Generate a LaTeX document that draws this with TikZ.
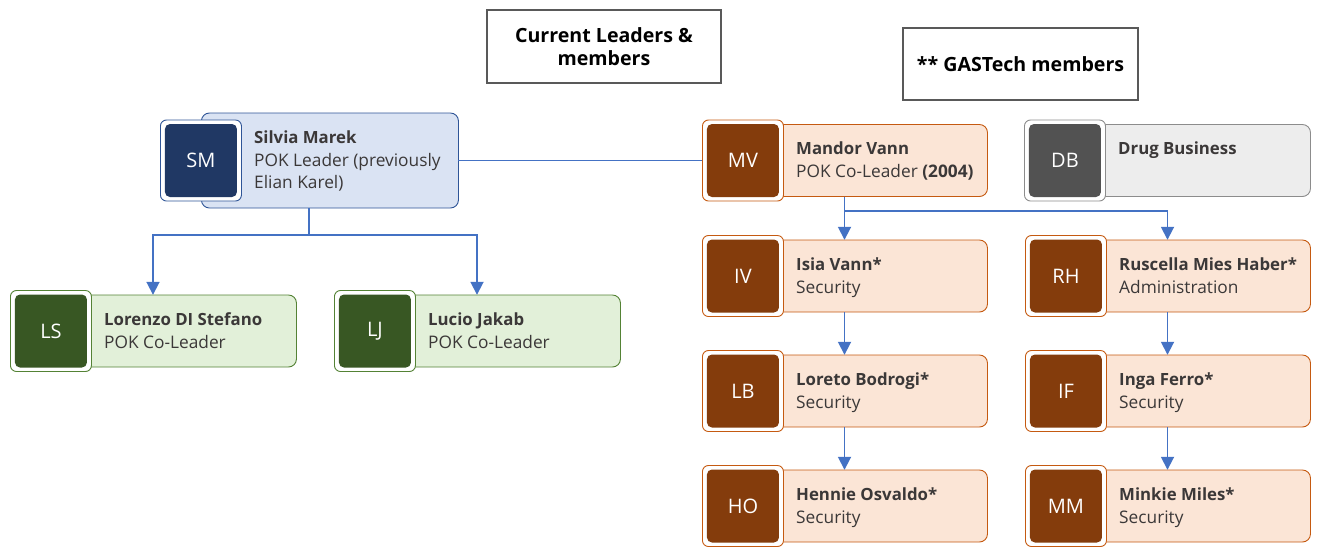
\documentclass[tikz,border=0pt]{standalone}
\usepackage{fontspec}
\setmainfont{Open Sans}
\usetikzlibrary{arrows.meta}
\definecolor{bluefill}{HTML}{DAE3F3}
\definecolor{blueborder}{HTML}{2F5597}
\definecolor{bluedark}{HTML}{203864}
\definecolor{orangefill}{HTML}{FBE5D6}
\definecolor{orangeborder}{HTML}{C55A11}
\definecolor{orangedark}{HTML}{843C0C}
\definecolor{greenfill}{HTML}{E2F0D9}
\definecolor{greenborder}{HTML}{548235}
\definecolor{greendark}{HTML}{385723}
\definecolor{grayfill}{HTML}{EDEDED}
\definecolor{grayborder}{HTML}{8C8C8C}
\definecolor{graydark}{HTML}{525252}
\definecolor{connblue}{HTML}{4472C4}
\definecolor{txtgray}{HTML}{3B3838}
\definecolor{titleborder}{HTML}{595959}
\tikzset{
  cardbox/.style={draw=#1border, fill=#1fill, rounded corners=8pt, line width=0.9pt, inner sep=0pt},
  badgeout/.style={draw=#1border, fill=white, rounded corners=6pt, line width=0.9pt, minimum width=81pt, minimum height=81pt, inner sep=0pt},
  badgein/.style={fill=#1dark, rounded corners=5pt, minimum width=72pt, minimum height=73pt, inner sep=0pt, text=white, font=\fontsize{20}{24}\selectfont},
  cardarea/.style={inner sep=0pt},
  namelabel/.style={inner sep=0pt, text=txtgray, font=\bfseries\fontsize{16.8}{18}\selectfont},
  rolelabel/.style={inner sep=0pt, text=txtgray, font=\fontsize{17.3}{18}\selectfont},
  conn/.style={draw=connblue, line width=1.8pt},
  arr/.style={conn, -{Triangle[length=13pt,width=13pt]}},
  titlebox/.style={draw=titleborder, line width=1.1pt, align=center, inner sep=0pt, font=\bfseries\fontsize{19.6}{23}\selectfont}
}
% #1 id, #2 badge left x, #3 centre y, #4 box right x, #5 box height, #6 scheme, #7 initials, #8 name, #9 role
\newcommand\orgcard[9]{%
  \node[cardbox=#6, minimum width={(#4-#2-41)*1pt}, minimum height={#5*1pt}, anchor=west] (#1-box) at ({#2+41},#3) {};
  \node[badgeout=#6, anchor=west] (#1-badge) at (#2,#3) {};
  \node[badgein=#6] (#1-ini) at (#1-badge.center) {#7};
  \node[namelabel, anchor=base west] (#1-name) at ({#2+94},{#3-6-(#5-72)/2}) {#8};
  \node[rolelabel, anchor=base west] (#1-role) at ({#2+94},{#3+17-(#5-72)/2}) {#9};
  \node[cardarea, minimum width={(#4-#2)*1pt}, minimum height={#5*1pt}] (#1) at ({(#2+#4)/2},#3) {};
}
\begin{document}
\begin{tikzpicture}[x=1pt,y=-1pt]
\useasboundingbox (0,0) rectangle (1322,557);

\node[titlebox, minimum width=234pt, minimum height=73pt] (title) at (604,46.5) {Current Leaders \&\\members};
\node[titlebox, minimum width=235pt, minimum height=72pt] (note) at (1020.5,64) {** GASTech members};

\orgcard{sm}{160}{160.5}{458}{95}{blue}{SM}{Silvia Marek}{POK Leader (previously}
\node[rolelabel, anchor=base west] (sm-role2) at (254,188) {Elian Karel)};

\orgcard{mv}{702}{160.5}{987}{72}{orange}{MV}{Mandor Vann}{POK Co-Leader \textbf{(2004)}}
\orgcard{db}{1024}{160.5}{1310}{72}{gray}{DB}{Drug Business}{}

\orgcard{ls}{10}{331}{296}{72}{green}{LS}{Lorenzo DI Stefano}{POK Co-Leader}
\orgcard{lj}{334}{331}{620}{72}{green}{LJ}{Lucio Jakab}{POK Co-Leader}

\orgcard{iv}{702}{276}{987}{72}{orange}{IV}{Isia Vann*}{Security}
\orgcard{rh}{1025}{276}{1310}{72}{orange}{RH}{Ruscella Mies Haber*}{Administration}
\orgcard{lb}{702}{391}{987}{72}{orange}{LB}{Loreto Bodrogi*}{Security}
\orgcard{if}{1025}{391}{1310}{72}{orange}{IF}{Inga Ferro*}{Security}
\orgcard{ho}{702}{506}{987}{72}{orange}{HO}{Hennie Osvaldo*}{Security}
\orgcard{mm}{1025}{506}{1310}{72}{orange}{MM}{Minkie Miles*}{Security}

\draw[conn] (sm.east) -- (mv.west);
\draw[arr] (sm.south) -- ++(0,27) -| (ls.north);
\draw[arr] (sm.south) -- ++(0,27) -| (lj.north);
\draw[arr] (mv.south) -- (iv.north);
\draw[arr] (mv.south) -- ++(0,14) -| (rh.north);
\draw[arr] (iv.south) -- (lb.north);
\draw[arr] (lb.south) -- (ho.north);
\draw[arr] (rh.south) -- (if.north);
\draw[arr] (if.south) -- (mm.north);
\end{tikzpicture}
\end{document}
